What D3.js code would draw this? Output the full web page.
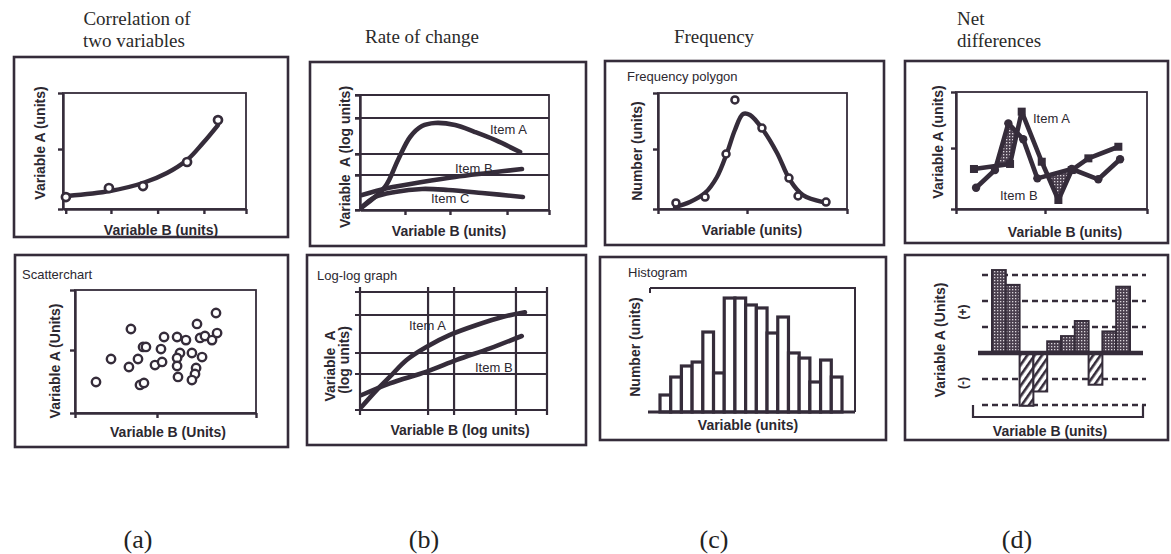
<!DOCTYPE html>
<html><head><meta charset="utf-8">
<script src="https://cdn.jsdelivr.net/npm/d3@7"></script>
<style>
html,body{margin:0;padding:0;background:#fff;}
svg{display:block;}
text{white-space:pre;}
</style></head><body>
<svg id="c" width="1171" height="554"></svg>
<script>
// ---------- DATA ----------
const panelTitles = ["Correlation of|two variables", "Rate of change", "Frequency", "Net|differences"];
const panelLetters = ["(a)", "(b)", "(c)", "(d)"];

// (a) top: correlation
const corrPointX = [1.6, 25.1, 43.7, 67.8, 84.7];
const corrPointY = [10.3, 18.1, 19.8, 40.5, 76.7];
const corrFitX = [2.2, 25.7, 43.7, 56.8, 67.8, 76.5, 84.7];
const corrFitY = [11.2, 15.5, 22.4, 31, 42.2, 56.9, 72.4];
const corrTicksX = [1.5, 26.2, 51.7, 77, 100];
const corrTicksY = [0, 51.7, 100];

// (a) bottom: scatter
const scatterX = [11.6,19.9,30.9,29.8,34.8,37.6,39.2,35.9,38.1,44.2,48.1,47.5,49.2,56.4,61.3,58,56.4,56.4,56.9,67.4,64.6,70.2,69.1,71.8,75.7,77.9,78.5,66.9,66.3,64.6];
const scatterY = [25.2,43.9,68.3,37.4,43.9,53.7,53.7,22.8,24.4,39,41.5,52,61.8,61.8,59.3,48.8,44.7,38.2,29.3,72.4,48.8,45.5,61,62.6,59.3,81.3,65,36.6,31.7,26.8];
const scatterTicksX = [0, 45.3, 100];
const scatterTicksY = [0, 51.2, 100];

// (b) top: rate of change
const rateAX = [1.1, 13.2, 20.1, 26.5, 32.8, 39.7, 50.3, 60.8, 71.4, 84.7];
const rateAY = [2.6, 20, 43.5, 63.5, 73, 75.7, 73.9, 67.8, 60.9, 50.4];
const rateBX = [1.1, 14.8, 32.8, 50.3, 67.7, 85.7];
const rateBY = [13, 19.1, 24.3, 28.7, 32.2, 35.7];
const rateCX = [1.1, 7.9, 18.5, 32.8, 46.6, 64.6, 86.2];
const rateCY = [2.6, 11.3, 15.7, 18.3, 17.4, 14.8, 11.3];
const rateTicksX = [23.8, 47.6, 77.8, 100];
const rateGridY = [0, 30.4, 48.7, 80, 100];
const rateLabels = ["Item A", "Item B", "Item C"];

// (b) bottom: log-log
const logAX = [0.9, 8.9, 16, 24.9, 35.7, 48.1, 62.4, 76.6, 88.2];
const logAY = [2.8, 16.9, 28.2, 42.4, 53.6, 63.6, 72, 79, 82.8];
const logBX = [0.9, 16, 35.7, 51.7, 69.5, 86.5];
const logBY = [12.7, 22.6, 32.5, 42.4, 52.3, 62.7];
const logGridX = [0, 36.4, 50.3, 83.4, 100];
const logGridY = [0, 30.5, 48.3, 80.5, 100];

// (c) top: frequency polygon
const freqPointX = [9.5, 24.9, 36, 40.7, 55, 69.3, 74.1, 88.9];
const freqPointY = [5.2, 10.3, 47.4, 94, 69.8, 26.7, 11.2, 6];
const freqFitX = [9, 16.9, 24.9, 31.2, 36.5, 40.7, 45, 48.7, 55.6, 63, 69.8, 76.7, 87.3];
const freqFitY = [1.7, 6, 13.8, 27.6, 48.3, 68.1, 81.9, 81, 68.1, 48.3, 25, 12, 6];
const freqTicksX = [0, 47.1, 100];
const freqTicksY = [0, 51.7, 100];

// (c) bottom: histogram
const histValues = [13.7, 28.2, 37.1, 40.3, 64.5, 31.5, 91.9, 91.9, 86.3, 83.9, 63.7, 76.6, 47.6, 43.5, 24.2, 41.9, 28.2];

// (d) top: net differences
const netAX = [9.4, 28.3, 34.4, 44.9, 53.6, 60.6, 69.3, 85];
const netAY = [34.2, 38.5, 83.2, 40.4, 7.7, 33.3, 43.3, 53.2];
const netBX = [10.5, 20.4, 27.4, 35.2, 42.6, 60.6, 74.5, 85.9];
const netBY = [18.2, 33.3, 73.2, 59.6, 26.2, 34.2, 25.4, 42.5];
const netTicksX = [0, 46.6, 100];
const netTicksY = [0, 52.1, 100];

// (d) bottom: net difference bars
const netBarValues = [3.19, 2.62, -2.03, -1.48, 0.45, 0.65, 1.23, -1.22, 0.83, 2.55];
const netLevels = [3, 2, 1, -1, -2];

// ---------- DRAW ----------
const ink = "#352c3a";
const txt = "#2c2830";
const sans = "'Liberation Sans', Arial, Helvetica, sans-serif";
const serif = "'Liberation Serif', 'Times New Roman', serif";
const svg = d3.select("#c");
svg.append("rect").attr("width", 1171).attr("height", 554).attr("fill", "#fff");

const defs = svg.append("defs");
const dots = defs.append("pattern").attr("id", "dots").attr("patternUnits", "userSpaceOnUse").attr("width", 3).attr("height", 3);
dots.append("rect").attr("width", 3).attr("height", 3).attr("fill", "#4a3f4e");
dots.append("rect").attr("x", 1).attr("y", 1).attr("width", 1.3).attr("height", 1.3).attr("fill", "#dcd6dc");
const hatch = defs.append("pattern").attr("id", "hatch").attr("patternUnits", "userSpaceOnUse")
  .attr("width", 6).attr("height", 6).attr("patternTransform", "rotate(35)");
hatch.append("rect").attr("width", 6).attr("height", 6).attr("fill", "#fff");
hatch.append("rect").attr("width", 2.6).attr("height", 6).attr("fill", ink);

function box(x0, y0, x1, y1, w) {
  svg.append("rect").attr("x", x0).attr("y", y0).attr("width", x1 - x0).attr("height", y1 - y0)
    .attr("fill", "none").attr("stroke", ink).attr("stroke-width", w || 2.6);
}
function text(x, y, t, size, opts) {
  opts = opts || {};
  return svg.append("text").attr("x", x).attr("y", y).text(t)
    .attr("font-family", opts.family || sans).attr("font-size", size)
    .attr("font-weight", opts.bold ? "bold" : "normal")
    .attr("text-anchor", opts.anchor || "start").attr("fill", opts.fill || txt);
}
function vlabel(cx, cy, t, size) {
  svg.append("text").attr("transform", `translate(${cx},${cy}) rotate(-90)`)
    .attr("text-anchor", "middle").attr("dy", "0.36em")
    .attr("font-family", sans).attr("font-weight", "bold").attr("font-size", size || 14)
    .attr("fill", txt).text(t);
}
function styleAxis(g, w) {
  g.selectAll("path,line").attr("stroke", ink).attr("stroke-width", w || 2.2);
  g.selectAll("text").remove();
}
function frameAxes(x, y, tx, ty, frameW) {
  const [x0, x1] = x.range(), [y0, y1] = y.range();
  svg.append("rect").attr("x", x0).attr("y", y1).attr("width", x1 - x0).attr("height", y0 - y1)
    .attr("fill", "none").attr("stroke", ink).attr("stroke-width", frameW || 1.8);
  const gx = svg.append("g").attr("transform", `translate(0,${y0})`)
    .call(d3.axisBottom(x).tickValues(tx).tickSize(5).tickSizeOuter(0).tickFormat(""));
  styleAxis(gx, 2.4);
  const gy = svg.append("g").attr("transform", `translate(${x0},0)`)
    .call(d3.axisLeft(y).tickValues(ty).tickSize(5).tickSizeOuter(0).tickFormat(""));
  styleAxis(gy, 2.4);
}
function curve(x, y, xs, ys, w, c) {
  svg.append("path").datum(d3.range(xs.length))
    .attr("d", d3.line().x(i => x(xs[i])).y(i => y(ys[i])).curve(c || d3.curveLinear))
    .attr("fill", "none").attr("stroke", ink).attr("stroke-width", w)
    .attr("stroke-linecap", "round").attr("stroke-linejoin", "round");
}
function hollowPoints(x, y, xs, ys, r, w) {
  svg.append("g").selectAll("circle").data(d3.range(xs.length)).join("circle")
    .attr("cx", i => x(xs[i])).attr("cy", i => y(ys[i])).attr("r", r)
    .attr("fill", "#fff").attr("stroke", ink).attr("stroke-width", w);
}

// titles & letters
const titleX = [[137, 134], [422], [714], [957]];
const titleAnchor = ["middle", "middle", "middle", "start"];
panelTitles.forEach((t, k) => {
  const lines = t.split("|");
  lines.forEach((ln, j) => {
    const by = lines.length === 2 ? (j === 0 ? 25 : 47) : 43;
    text(titleX[k][j] ?? titleX[k][0], by, ln, 19, {family: serif, anchor: titleAnchor[k], fill: "#2a2a2a"});
  });
});
const letterX = [138, 424, 714, 1017];
panelLetters.forEach((t, k) => text(letterX[k], 548, t, 26, {family: serif, anchor: "middle", fill: "#222"}));

// ===== (a) top =====
box(14, 57, 288, 237);
{
  const x = d3.scaleLinear().domain([0, 100]).range([63, 246]);
  const y = d3.scaleLinear().domain([0, 100]).range([209, 93]);
  frameAxes(x, y, corrTicksX, corrTicksY);
  curve(x, y, corrFitX, corrFitY, 4.4, d3.curveCatmullRom);
  hollowPoints(x, y, corrPointX, corrPointY, 4, 2.7);
  vlabel(40, 143, "Variable A (units)");
  text(161, 235, "Variable B (units)", 14, {bold: true, anchor: "middle"});
}

// ===== (a) bottom =====
box(15, 255, 288, 447);
{
  text(22, 279, "Scatterchart", 13);
  const x = d3.scaleLinear().domain([0, 100]).range([75, 256]);
  const y = d3.scaleLinear().domain([0, 100]).range([413, 290]);
  frameAxes(x, y, scatterTicksX, scatterTicksY);
  hollowPoints(x, y, scatterX, scatterY, 4.2, 2.4);
  vlabel(55, 361, "Variable A (Units)");
  text(168, 437, "Variable B (Units)", 14, {bold: true, anchor: "middle"});
}

// ===== (b) top =====
box(310, 62, 586, 246);
{
  const x = d3.scaleLinear().domain([0, 100]).range([360, 549]);
  const y = d3.scaleLinear().domain([0, 100]).range([210, 95]);
  svg.append("g").selectAll("line").data(rateGridY).join("line")
    .attr("x1", x(0) - 5).attr("x2", x(100)).attr("y1", d => y(d)).attr("y2", d => y(d))
    .attr("stroke", ink).attr("stroke-width", 2);
  frameAxes(x, y, rateTicksX, rateGridY);
  curve(x, y, rateAX, rateAY, 4.6, d3.curveCatmullRom);
  curve(x, y, rateBX, rateBY, 4.6, d3.curveCatmullRom);
  curve(x, y, rateCX, rateCY, 4.6, d3.curveCatmullRom);
  text(490, 134, rateLabels[0], 13);
  text(455, 173, rateLabels[1], 13);
  text(431, 203, rateLabels[2], 13);
  vlabel(345, 157, "Variable  A (log units)");
  text(449, 236, "Variable B (units)", 14, {bold: true, anchor: "middle"});
}

// ===== (b) bottom =====
box(307, 255, 586, 445);
{
  text(317, 280, "Log-log graph", 13);
  const x = d3.scaleLinear().domain([0, 100]).range([360, 547]);
  const y = d3.scaleLinear().domain([0, 100]).range([410, 292]);
  svg.append("g").selectAll("line").data(logGridX).join("line")
    .attr("x1", d => x(d)).attr("x2", d => x(d)).attr("y1", y(100) - 5).attr("y2", y(0) + 5)
    .attr("stroke", ink).attr("stroke-width", 2.2);
  svg.append("g").selectAll("line").data(logGridY).join("line")
    .attr("x1", x(0) - 5).attr("x2", x(100)).attr("y1", d => y(d)).attr("y2", d => y(d))
    .attr("stroke", ink).attr("stroke-width", 2.2);
  curve(x, y, logAX, logAY, 4.6, d3.curveCatmullRom);
  curve(x, y, logBX, logBY, 4.6, d3.curveCatmullRom);
  text(409, 330, "Item A", 13);
  text(475, 372, "Item B", 13);
  vlabel(330, 366, "Variable  A");
  vlabel(344, 360, "(log units)");
  text(460, 435, "Variable B (log units)", 14, {bold: true, anchor: "middle"});
}

// ===== (c) top =====
box(605, 61, 884, 245);
{
  text(627, 81, "Frequency polygon", 13);
  const x = d3.scaleLinear().domain([0, 100]).range([658, 847]);
  const y = d3.scaleLinear().domain([0, 100]).range([209, 93]);
  frameAxes(x, y, freqTicksX, freqTicksY);
  curve(x, y, freqFitX, freqFitY, 4.4, d3.curveCatmullRom);
  hollowPoints(x, y, freqPointX, freqPointY, 3.5, 2.5);
  vlabel(637, 151, "Number (units)");
  text(752, 235, "Variable (units)", 14, {bold: true, anchor: "middle"});
}

// ===== (c) bottom =====
box(600, 257, 886, 440);
{
  text(628, 277, "Histogram", 13);
  const x = d3.scaleBand().domain(d3.range(histValues.length)).range([660, 842]).padding(0);
  const y = d3.scaleLinear().domain([0, 100]).range([412, 288]);
  svg.append("path").attr("d", `M650,${y(100)} H855 V${y(0)}`).attr("fill", "none")
    .attr("stroke", ink).attr("stroke-width", 2);
  svg.append("line").attr("x1", 650).attr("x2", 650).attr("y1", y(100)).attr("y2", y(100) + 5)
    .attr("stroke", ink).attr("stroke-width", 2);
  svg.append("g").selectAll("rect").data(histValues).join("rect")
    .attr("x", (d, i) => x(i)).attr("y", d => y(d)).attr("width", x.bandwidth())
    .attr("height", d => y(0) - y(d)).attr("fill", "#fff").attr("stroke", ink).attr("stroke-width", 3.2);
  svg.append("line").attr("x1", 648).attr("x2", 855).attr("y1", y(0)).attr("y2", y(0))
    .attr("stroke", ink).attr("stroke-width", 3);
  vlabel(635, 347, "Number (units)");
  text(748, 430, "Variable (units)", 14, {bold: true, anchor: "middle"});
}

// ===== (d) top =====
box(905, 61, 1168, 243);
{
  const x = d3.scaleLinear().domain([0, 100]).range([956, 1147]);
  const y = d3.scaleLinear().domain([0, 100]).range([209, 92]);
  frameAxes(x, y, netTicksX, netTicksY);
  const ia = d3.range(netAX.length), ib = d3.range(netBX.length);
  defs.append("clipPath").attr("id", "clipB").append("path").datum(ib)
    .attr("d", d3.area().x(i => x(netBX[i])).y0(y(0)).y1(i => y(netBY[i])));
  svg.append("path").datum(ia)
    .attr("d", d3.area().x(i => x(netAX[i])).y0(y(100)).y1(i => y(netAY[i])))
    .attr("fill", "url(#dots)").attr("clip-path", "url(#clipB)");
  curve(x, y, netAX, netAY, 4.6);
  curve(x, y, netBX, netBY, 4.6);
  svg.append("g").selectAll("rect").data(ia).join("rect")
    .attr("x", i => x(netAX[i]) - 4).attr("y", i => y(netAY[i]) - 4).attr("width", 8).attr("height", 8)
    .attr("fill", ink);
  svg.append("g").selectAll("circle").data(ib).join("circle")
    .attr("cx", i => x(netBX[i])).attr("cy", i => y(netBY[i])).attr("r", 4.2).attr("fill", ink);
  text(1033, 123, "Item A", 13);
  text(1000, 200, "Item B", 13);
  vlabel(938, 142, "Variable A (units)");
  text(1065, 237, "Variable B (units)", 14, {bold: true, anchor: "middle"});
}

// ===== (d) bottom =====
box(905, 255, 1168, 440);
{
  const x = d3.scaleBand().domain(d3.range(netBarValues.length)).range([992, 1130]).padding(0);
  const y = d3.scaleLinear().domain([-3, 3]).range([431, 275]);
  svg.append("g").selectAll("line").data(netLevels).join("line")
    .attr("x1", 982).attr("x2", 1146).attr("y1", d => y(d)).attr("y2", d => y(d))
    .attr("stroke", ink).attr("stroke-width", 2.6).attr("stroke-dasharray", "6,4");
  svg.append("g").selectAll("rect").data(netBarValues).join("rect")
    .attr("x", (d, i) => x(i)).attr("y", d => y(Math.max(0, d)))
    .attr("width", x.bandwidth()).attr("height", d => Math.abs(y(d) - y(0)))
    .attr("fill", d => d >= 0 ? "url(#dots)" : "url(#hatch)")
    .attr("stroke", ink).attr("stroke-width", 2);
  svg.append("line").attr("x1", 978).attr("x2", 1143).attr("y1", y(0)).attr("y2", y(0))
    .attr("stroke", ink).attr("stroke-width", 4.5);
  svg.append("path").attr("d", "M973,405 V417 H1143 V405").attr("fill", "none")
    .attr("stroke", ink).attr("stroke-width", 2.2);
  vlabel(940, 340, "Variable A (Units)");
  vlabel(963, 312, "(+)", 12);
  vlabel(963, 383, "(-)", 12);
  text(1050, 436, "Variable B (units)", 14, {bold: true, anchor: "middle"});
}
</script></body></html>
